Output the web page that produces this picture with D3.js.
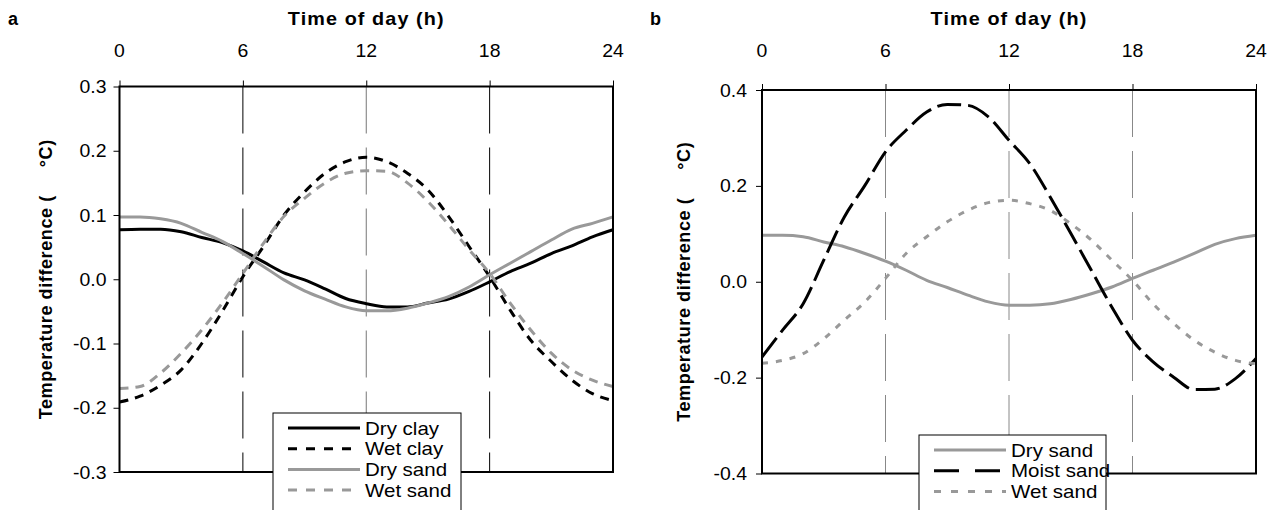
<!DOCTYPE html>
<html><head><meta charset="utf-8">
<script src="https://cdn.jsdelivr.net/npm/d3@7"></script>
<style>
html,body{margin:0;padding:0;background:#fff;}
svg text{font-family:"Liberation Sans",Arial,sans-serif;fill:#000;}
</style></head>
<body><svg id="c" width="1278" height="510"></svg>
<script>
// ---------- data ----------
const hours = [0,1,2,3,4,5,6,7,8,9,10,11,12,13,14,15,16,17,18,19,20,21,22,23,24];
const xTicks = [0,6,12,18,24];
const yTicksA = [0.3,0.2,0.1,0.0,-0.1,-0.2,-0.3];
const yTicksB = [0.4,0.2,0.0,-0.2,-0.4];

const dryClayA = [0.077,0.078,0.078,0.074,0.065,0.057,0.044,0.027,0.010,-0.001,-0.015,-0.030,-0.038,-0.043,-0.043,-0.037,-0.031,-0.019,-0.004,0.012,0.025,0.040,0.052,0.066,0.077];
const wetClayA = [-0.191,-0.182,-0.165,-0.141,-0.100,-0.050,0.004,0.051,0.100,0.136,0.165,0.183,0.190,0.183,0.165,0.139,0.098,0.051,0.004,-0.048,-0.095,-0.128,-0.157,-0.178,-0.189];
const drySandA = [0.097,0.097,0.094,0.087,0.073,0.059,0.040,0.020,-0.001,-0.018,-0.031,-0.043,-0.049,-0.049,-0.045,-0.037,-0.027,-0.012,0.007,0.025,0.043,0.061,0.078,0.087,0.097];
const wetSandA = [-0.170,-0.167,-0.146,-0.115,-0.079,-0.037,0.009,0.056,0.098,0.126,0.150,0.165,0.169,0.168,0.150,0.121,0.085,0.046,0.009,-0.037,-0.079,-0.115,-0.141,-0.157,-0.167];

const drySandB = [0.097,0.097,0.094,0.083,0.073,0.059,0.043,0.024,0.003,-0.012,-0.028,-0.042,-0.049,-0.049,-0.046,-0.037,-0.025,-0.011,0.007,0.024,0.041,0.059,0.078,0.090,0.097];
const moistSandB = [-0.157,-0.101,-0.046,0.045,0.135,0.201,0.271,0.316,0.354,0.370,0.368,0.344,0.295,0.247,0.177,0.101,0.024,-0.053,-0.122,-0.167,-0.199,-0.225,-0.224,-0.202,-0.160];
const wetSandB = [-0.170,-0.164,-0.150,-0.119,-0.080,-0.042,0.007,0.059,0.094,0.125,0.149,0.165,0.170,0.163,0.149,0.121,0.087,0.045,0.003,-0.046,-0.087,-0.122,-0.147,-0.164,-0.171];

const namesA = ["Dry clay","Wet clay","Dry sand","Wet sand"];
const namesB = ["Dry sand","Moist sand","Wet sand"];

// ---------- drawing ----------
const svg = d3.select("#c");
const BLACK = "#000", GRAY = "#999";
const fmtY = v => d3.format(".1f")(v).replace("\u2212", "-");

function txt(g, x, y, s, opt) {
  opt = opt || {};
  const t = g.append("text")
    .attr("transform", `translate(${x},${y}) scale(${opt.sx || 1.08},1)`)
    .attr("text-anchor", opt.anchor || "start")
    .style("font-size", (opt.size || 18) + "px")
    .style("font-weight", opt.bold ? "bold" : "normal")
    .text(s);
  if (opt.ls) t.style("letter-spacing", opt.ls + "px");
  return t;
}

function panel(cfg) {
  const g = svg.append("g");
  const x = d3.scaleLinear().domain([0,24]).range([cfg.x0, cfg.x1]);
  const y = d3.scaleLinear().domain(cfg.ydom).range([cfg.yb, cfg.yt]);

  // vertical reference lines
  cfg.vlines.forEach(v => {
    g.append("line").attr("x1", x(v.h)).attr("x2", x(v.h))
      .attr("y1", y(cfg.ydom[1])).attr("y2", y(cfg.ydom[0]))
      .attr("stroke", v.c).attr("stroke-width", 1).attr("stroke-dasharray", "47,14");
  });

  // top axis
  const top = g.append("g").attr("transform", `translate(0,${y(cfg.ydom[1])})`)
    .call(d3.axisTop(x).tickValues(xTicks).tickSize(6).tickFormat(""));
  top.select(".domain").remove();
  top.selectAll("line").attr("stroke", BLACK).attr("stroke-width", 1);
  xTicks.forEach(h => txt(g, x(h), 57, d3.format("d")(h), {anchor: "middle"}));

  // left axis
  const left = g.append("g").attr("transform", `translate(${cfg.x0},0)`)
    .call(d3.axisLeft(y).tickValues(cfg.yticks).tickSize(6).tickFormat(""));
  left.select(".domain").remove();
  left.selectAll("line").attr("stroke", BLACK).attr("stroke-width", 1);
  cfg.yticks.forEach(v => txt(g, cfg.x0 - cfg.tgap, y(v) + 6.5, fmtY(v), {anchor: "end"}));

  // series
  const line = d3.line().x((d,i) => x(hours[i])).y(d => y(d)).curve(d3.curveMonotoneX);
  cfg.series.forEach(s => {
    g.append("path").attr("d", line(s.v)).attr("fill", "none")
      .attr("stroke", s.c).attr("stroke-width", 3)
      .attr("stroke-dasharray", s.dash || null);
  });

  // frame
  g.append("rect").attr("x", cfg.x0).attr("y", cfg.yt).attr("width", cfg.x1 - cfg.x0).attr("height", cfg.yb - cfg.yt)
    .attr("fill", "none").attr("stroke", BLACK).attr("stroke-width", 2);

  // titles
  txt(g, cfg.lx, 25, cfg.letter, {bold: true, size: 18, sx: 1});
  txt(g, (cfg.x0 + cfg.x1) / 2, 25, "Time of day (h)", {anchor: "middle", bold: true, size: 18, sx: 1.1, ls: 1});
  g.append("text")
    .attr("transform", `translate(${cfg.ylx},${(cfg.yt + cfg.yb) / 2}) rotate(-90)`)
    .attr("text-anchor", "middle")
    .style("font-size", "18px").style("font-weight", "bold").style("letter-spacing", "0.6px")
    .text("Temperature difference (\u00a0\u00a0\u00a0\u00a0\u00a0\u00b0C)");

  // legend
  const L = cfg.legend;
  g.append("rect").attr("x", L.x).attr("y", L.y).attr("width", L.w).attr("height", 140)
    .attr("fill", "#fff").attr("stroke", BLACK).attr("stroke-width", 1);
  cfg.series.forEach((s, i) => {
    const cy = L.y + 15 + i * 20.7;
    g.append("line").attr("x1", L.x + 15).attr("x2", L.x + 87).attr("y1", cy).attr("y2", cy)
      .attr("stroke", s.c).attr("stroke-width", 3).attr("stroke-dasharray", s.ldash || s.dash || null);
    txt(g, L.x + 92, cy + 6.5, s.name, {sx: 1.14});
  });
}

panel({
  letter: "a", lx: 8, ylx: 52, tgap: 13,
  x0: 119.5, x1: 613, yt: 86.5, yb: 472, ydom: [-0.3, 0.3], yticks: yTicksA,
  vlines: [{h: 6, c: BLACK}, {h: 12, c: "#777"}, {h: 18, c: BLACK}],
  series: [
    {name: namesA[0], v: dryClayA, c: BLACK},
    {name: namesA[1], v: wetClayA, c: BLACK, dash: "9,7", ldash: "9,9"},
    {name: namesA[2], v: drySandA, c: GRAY},
    {name: namesA[3], v: wetSandA, c: GRAY, dash: "9,7", ldash: "9,9"}
  ],
  legend: {x: 273, y: 413, w: 188}
});

panel({
  letter: "b", lx: 650, ylx: 690, tgap: 15,
  x0: 762, x1: 1256, yt: 90, yb: 473.5, ydom: [-0.4, 0.4], yticks: yTicksB,
  vlines: [{h: 6, c: "#888"}, {h: 12, c: "#888"}, {h: 18, c: "#888"}],
  series: [
    {name: namesB[0], v: drySandB, c: GRAY},
    {name: namesB[1], v: moistSandB, c: BLACK, dash: "24,7", ldash: "25,16"},
    {name: namesB[2], v: wetSandB, c: GRAY, dash: "6,8", ldash: "7,10"}
  ],
  legend: {x: 919, y: 435, w: 187}
});
</script></body></html>
